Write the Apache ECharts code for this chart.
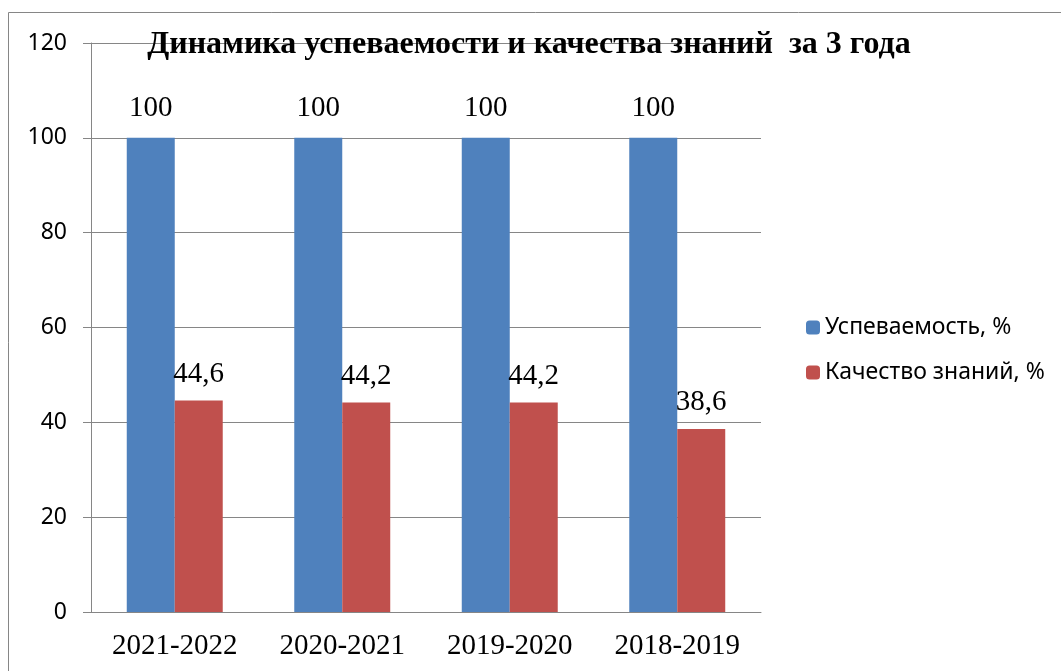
<!DOCTYPE html>
<html>
<head>
<meta charset="utf-8">
<script src="https://cdn.jsdelivr.net/npm/echarts@6/dist/echarts.min.js"></script>
<style>
  html, body { margin: 0; padding: 0; background: #fff; }
  #myChart { width: 1061px; height: 671px; }
</style>
</head>
<body>
<div id="myChart"></div>
<script>
const categories = ['2021-2022', '2020-2021', '2019-2020', '2018-2019']
const uspevaemost = [100, 100, 100, 100]
const kachestvo = [44.6, 44.2, 44.2, 38.6]
const seriesNames = ['Успеваемость, %', 'Качество знаний, %']

const gray = '#868686'
const serif = '"Liberation Serif", "Times New Roman", serif'
const sans = '"Noto Sans", "Liberation Sans", sans-serif'

const fmt = p => String(p.value).replace('.', ',')

let myChart = echarts.init(document.getElementById('myChart'))
myChart.setOption({
  animation: false,
  title: {
    text: 'Динамика успеваемости и качества знаний  за 3 года',
    left: 524,
    top: 24,
    textAlign: 'center',
    textStyle: { fontFamily: serif, fontWeight: 'bold', fontSize: 32, color: '#000' },
  },
  graphic: [
    {
      type: 'rect',
      shape: { x: 8.5, y: 12.5, width: 1100, height: 700 },
      style: { fill: 'none', stroke: gray, lineWidth: 1 },
      z: -1,
    },
  ],
  legend: {
    orient: 'vertical',
    left: 801,
    top: 311,
    itemWidth: 14,
    itemHeight: 14,
    itemGap: 22,
    textStyle: { fontFamily: sans, fontSize: 23, color: '#000' },
    data: seriesNames,
  },
  grid: { left: 91, right: 300, top: 43, bottom: 59 },
  xAxis: {
    type: 'category',
    data: categories,
    axisLine: { lineStyle: { color: gray } },
    axisTick: { length: 8, lineStyle: { color: gray } },
    axisLabel: { fontFamily: serif, fontSize: 29, color: '#000', margin: 20 },
  },
  yAxis: {
    type: 'value',
    min: 0,
    max: 120,
    interval: 20,
    axisLine: { show: true, lineStyle: { color: gray } },
    axisTick: { show: true, length: 8, lineStyle: { color: gray } },
    splitLine: { lineStyle: { color: gray } },
    axisLabel: { fontFamily: sans, fontSize: 23, color: '#000', margin: 24 },
  },
  series: [
    {
      name: seriesNames[0],
      type: 'bar',
      data: uspevaemost,
      barGap: '0%',
      barCategoryGap: '42.7%',
      itemStyle: { color: '#4F81BD' },
      label: { show: true, position: 'top', distance: 15, formatter: fmt, fontFamily: serif, fontSize: 29, color: '#000' },
    },
    {
      name: seriesNames[1],
      type: 'bar',
      data: kachestvo,
      itemStyle: { color: '#C0504D' },
      label: { show: true, position: 'top', distance: 12, formatter: fmt, fontFamily: serif, fontSize: 29, color: '#000' },
    },
  ],
})
</script>
</body>
</html>
